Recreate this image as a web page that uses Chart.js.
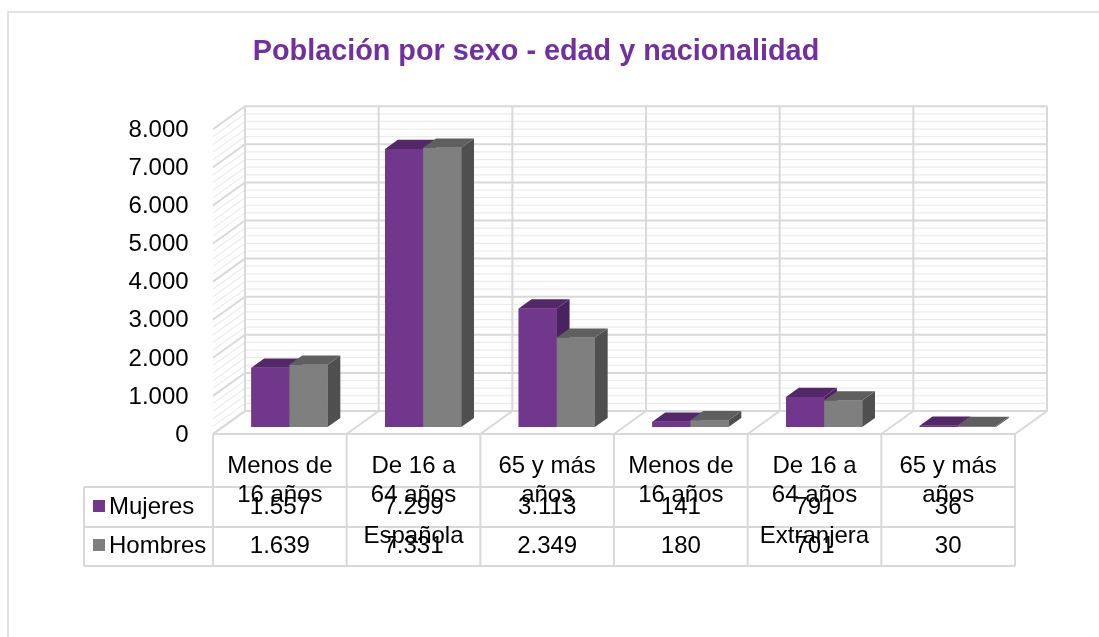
<!DOCTYPE html>
<html>
<head>
<meta charset="utf-8">
<script src="https://cdn.jsdelivr.net/npm/chart.js@4"></script>
<style>
html, body { margin: 0; padding: 0; background: #fff; }
canvas { display: block; }
</style>
</head>
<body>
<canvas id="myChart" width="1099" height="637"></canvas>
<script>
// data
const categories = [
    ['Menos de', '16 años'], ['De 16 a', '64 años'], ['65 y más', 'años'],
    ['Menos de', '16 años'], ['De 16 a', '64 años'], ['65 y más', 'años']
];
const groups = ['Española', 'Extranjera'];
const seriesNames = ['Mujeres', 'Hombres'];
const mujeres = [1557, 7299, 3113, 141, 791, 36];
const hombres = [1639, 7331, 2349, 180, 701, 30];
const yMax = 8000;
const yStep = 1000;
const yMinorStep = 200;
const titleText = 'Población por sexo - edad y nacionalidad';

const FONT = "'Liberation Sans', Arial, sans-serif";
const purple = '#70378d';
const gray = '#7f7f7f';
const faceColors = [
    { top: '#532768', side: '#4b2260' },
    { top: '#5f5f5f', side: '#4f4f4f' }
];

// 3d look: depth vector of the floor, bars sit part way in
const DX = 32, DY = -23;
const barPlane = 0.3;
const barDepth = 0.4;

function fmt(v){
    return String(v).replace(/\B(?=(\d{3})+(?!\d))/g, '.');
}

const frame3d = {
    id: 'frame3d',
    beforeDatasetsDraw(chart){
        const {ctx, chartArea: a, scales: {x, y}} = chart;
        const n = categories.length;
        const catW = (a.right - a.left) / n;
        const fx = -barPlane * DX, fy = -barPlane * DY;
        const bx = (1 - barPlane) * DX, by = (1 - barPlane) * DY;
        const frontL = a.left + fx;
        const backL = a.left + bx, backR = a.right + bx;
        ctx.save();

        // minor lines first, then the major ones
        for(let pass = 0; pass < 2; pass++){
            for(let v = 0; v <= yMax; v += yMinorStep){
                const major = v % yStep === 0;
                if((pass === 0) === major) continue;
                ctx.strokeStyle = major ? '#d9d9d9' : '#ececec';
                ctx.lineWidth = major ? 2 : 1.2;
                const py = y.getPixelForValue(v);
                ctx.beginPath();
                ctx.moveTo(frontL, py + fy);
                ctx.lineTo(backL, py + by);
                ctx.lineTo(backR, py + by);
                ctx.stroke();
            }
        }

        // back wall verticals and floor diagonals
        const y0 = y.getPixelForValue(0);
        const yTop = y.getPixelForValue(yMax);
        ctx.strokeStyle = '#d9d9d9';
        ctx.lineWidth = 2;
        for(let k = 0; k <= n; k++){
            const xb = a.left + k * catW;
            ctx.beginPath();
            ctx.moveTo(xb + bx, yTop + by);
            ctx.lineTo(xb + bx, y0 + by);
            ctx.lineTo(xb + fx, y0 + fy);
            ctx.stroke();
        }
        ctx.restore();
    },
    afterDatasetsDraw(chart){
        const ctx = chart.ctx;
        const bdx = barDepth * DX, bdy = barDepth * DY;
        ctx.save();
        chart.data.datasets.forEach((ds, i) => {
            const meta = chart.getDatasetMeta(i);
            meta.data.forEach(bar => {
                const L = bar.x - bar.width / 2, R = bar.x + bar.width / 2;
                const top = bar.y, base = bar.base;
                // side
                ctx.fillStyle = faceColors[i].side;
                ctx.beginPath();
                ctx.moveTo(R, top);
                ctx.lineTo(R + bdx, top + bdy);
                ctx.lineTo(R + bdx, base + bdy);
                ctx.lineTo(R, base);
                ctx.closePath();
                ctx.fill();
                // top
                ctx.fillStyle = faceColors[i].top;
                ctx.beginPath();
                ctx.moveTo(L, top);
                ctx.lineTo(R, top);
                ctx.lineTo(R + bdx, top + bdy);
                ctx.lineTo(L + bdx, top + bdy);
                ctx.closePath();
                ctx.fill();
                // front again so it covers the neighbour's side
                bar.draw(ctx);
            });
        });
        ctx.restore();
    },
    afterDraw(chart){
        const {ctx, chartArea: a, scales: {x, y}} = chart;
        const n = categories.length;
        const catW = (a.right - a.left) / n;
        const fx = -barPlane * DX, fy = -barPlane * DY;
        const frontL = a.left + fx, frontR = a.right + fx;
        const y0 = y.getPixelForValue(0) + fy;
        const rowHead = y0 + 53, row1 = y0 + 93, row2 = y0 + 132;
        const legendL = 84;
        ctx.save();

        // outer border
        ctx.strokeStyle = '#d9d9d9';
        ctx.lineWidth = 1.5;
        ctx.strokeRect(8, 12, 1200, 800);

        // title
        ctx.fillStyle = '#7030a0';
        ctx.font = 'bold 28.8px ' + FONT;
        ctx.textAlign = 'center';
        ctx.textBaseline = 'middle';
        ctx.fillText(titleText, 536, 52);

        // table grid
        ctx.strokeStyle = '#d9d9d9';
        ctx.lineWidth = 2;
        ctx.beginPath();
        ctx.moveTo(frontL, y0); ctx.lineTo(frontR, y0);
        [rowHead, row1, row2].forEach(ry => { ctx.moveTo(legendL, ry); ctx.lineTo(frontR, ry); });
        ctx.moveTo(legendL, rowHead); ctx.lineTo(legendL, row2);
        for(let k = 0; k <= n; k++){
            const xx = frontL + k * catW;
            ctx.moveTo(xx, y0); ctx.lineTo(xx, row2);
        }
        ctx.stroke();

        ctx.fillStyle = '#000';
        ctx.font = '24px ' + FONT;
        categories.forEach((lines, i) => {
            const cx = x.getPixelForValue(i) + fx;
            lines.forEach((t, j) => ctx.fillText(t, cx, y0 + 32 + j * 29));
            ctx.fillText(fmt(mujeres[i]), cx, y0 + 73);
            ctx.fillText(fmt(hombres[i]), cx, y0 + 112);
        });
        groups.forEach((g, gi) => {
            const cx = frontL + (gi * 3 + 1.5) * catW;
            ctx.fillText(g, cx, y0 + 102);
        });

        // legend keys in the table
        ctx.textAlign = 'left';
        [purple, gray].forEach((c, i) => {
            const cy = i === 0 ? y0 + 73 : y0 + 112;
            ctx.fillStyle = c;
            ctx.fillRect(93, cy - 7, 12, 12);
            ctx.fillStyle = '#000';
            ctx.fillText(seriesNames[i], 109, cy);
        });
        ctx.restore();
    }
};

const ctx = document.getElementById('myChart').getContext('2d');
const myChart = new Chart(ctx, {
    type: 'bar',
    data: {
        labels: categories.map(c => c.join(' ')),
        datasets: [{
            label: seriesNames[0],
            data: mujeres,
            backgroundColor: purple
        }, {
            label: seriesNames[1],
            data: hombres,
            backgroundColor: gray
        }]
    },
    options: {
        responsive: false,
        devicePixelRatio: 1,
        animation: false,
        categoryPercentage: 0.57,
        barPercentage: 1,
        layout: {
            padding: { left: 0, right: 74.4, top: 122.3, bottom: 209.9 }
        },
        plugins: {
            legend: { display: false },
            tooltip: { enabled: false },
            title: { display: false }
        },
        scales: {
            x: { display: false },
            y: {
                min: 0,
                max: yMax,
                grid: { display: false, drawTicks: false },
                border: { display: false },
                afterFit(s){ s.width = 222.6; },
                ticks: {
                    stepSize: yStep,
                    padding: 34,
                    labelOffset: 8,
                    color: '#000',
                    font: { family: FONT, size: 24 },
                    callback: v => fmt(v)
                }
            }
        }
    },
    plugins: [frame3d]
});
</script>
</body>
</html>
